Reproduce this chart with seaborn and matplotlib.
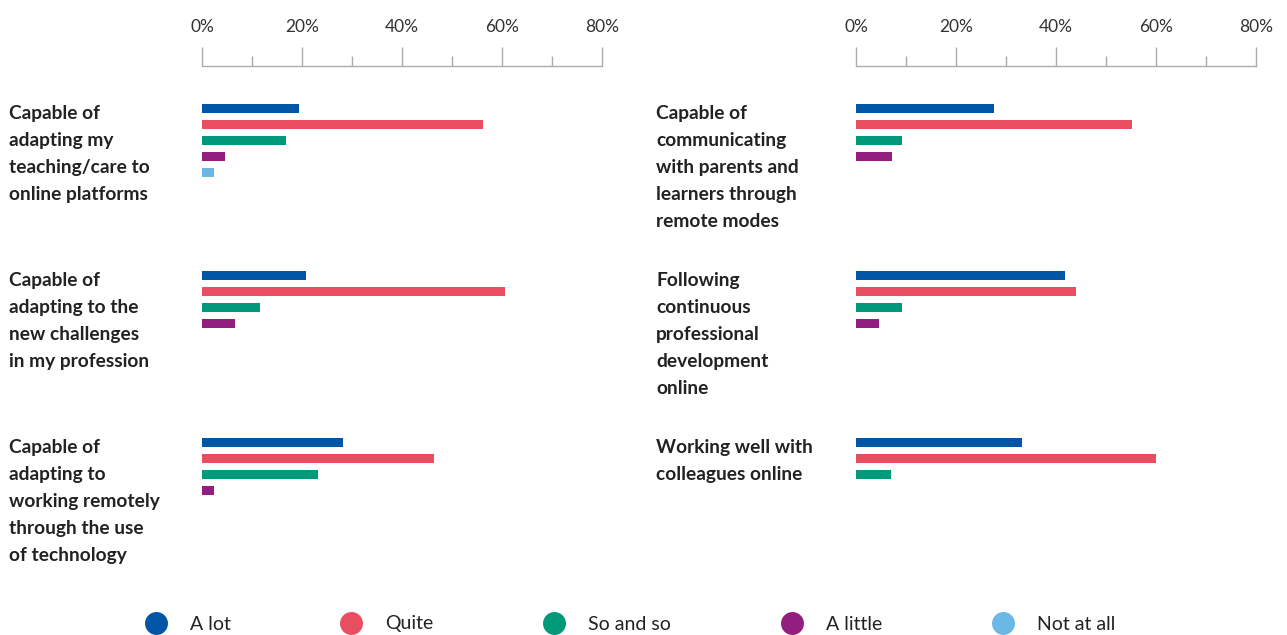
import numpy as np
import pandas as pd
import seaborn as sns
import matplotlib.pyplot as plt
import matplotlib.transforms as mtrans
from matplotlib.lines import Line2D
from matplotlib.ticker import FixedLocator

# Answer scale and colours
responses = ["A lot", "Quite", "So and so", "A little", "Not at all"]
colors = ["#0056A4", "#E94D60", "#009A7A", "#921F80", "#6BB8E6"]

# Left column statements and shares (%)
left_items = [
    "Capable of\nadapting my\nteaching/care to\nonline platforms",
    "Capable of\nadapting to the\nnew challenges\nin my profession",
    "Capable of\nadapting to\nworking remotely\nthrough the use\nof technology",
]
left_a_lot = [19.4, 20.8, 28.2]
left_quite = [56.2, 60.6, 46.4]
left_so_so = [16.8, 11.6, 23.2]
left_a_little = [4.6, 6.6, 2.4]
left_not_at_all = [2.4, 0.0, 0.0]

# Right column statements and shares (%)
right_items = [
    "Capable of\ncommunicating\nwith parents and\nlearners through\nremote modes",
    "Following\ncontinuous\nprofessional\ndevelopment\nonline",
    "Working well with\ncolleagues online",
]
right_a_lot = [27.6, 41.8, 33.2]
right_quite = [55.2, 44.0, 60.0]
right_so_so = [9.2, 9.2, 7.0]
right_a_little = [7.2, 4.6, 0.0]
right_not_at_all = [0.0, 0.0, 0.0]

tick_values = [0, 20, 40, 60, 80]
tick_labels = ["0%", "20%", "40%", "60%", "80%"]


def long_frame(items, *series):
    rows = []
    for resp, vals in zip(responses, series):
        for item, v in zip(items, vals):
            rows.append({"item": item, "response": resp, "pct": v})
    return pd.DataFrame(rows)


left_df = long_frame(left_items, left_a_lot, left_quite, left_so_so,
                     left_a_little, left_not_at_all)
right_df = long_frame(right_items, right_a_lot, right_quite, right_so_so,
                      right_a_little, right_not_at_all)

sns.set_theme(style="white")
plt.rcParams["font.family"] = ["Lato", "DejaVu Sans"]

W, H = 1287, 635
fig = plt.figure(figsize=(W / 100, H / 100), dpi=100)

ax_top_px, ax_bot_px = 66, 600
panels = [
    (202, 9, left_df, left_items),
    (856, 656, right_df, right_items),
]

tick_grey = "#ABABAB"
for x0_px, label_px, df, items in panels:
    ax = fig.add_axes([x0_px / W, 1 - ax_bot_px / H, 400 / W,
                       (ax_bot_px - ax_top_px) / H])
    sns.barplot(data=df, x="pct", y="item", hue="response",
                hue_order=responses, palette=colors, saturation=1,
                orient="h", width=0.479, gap=0.4375, linewidth=0,
                legend=False, errorbar=None, ax=ax)
    ax.set_xlim(0, 80)
    ax.set_ylim(2.7515, -0.446)
    ax.set_xlabel("")
    ax.set_ylabel("")
    ax.set_yticks([])
    ax.xaxis.tick_top()
    ax.set_xticks(tick_values)
    ax.set_xticklabels(tick_labels)
    ax.xaxis.set_minor_locator(FixedLocator([10, 30, 50, 70]))
    ax.tick_params(axis="x", which="major", direction="out", length=13.7,
                   width=1, color=tick_grey, pad=8.5, labelsize=12.5,
                   labelcolor="#333333")
    ax.tick_params(axis="x", which="minor", direction="out", length=7.2,
                   width=1, color=tick_grey)
    for side in ["left", "right", "bottom"]:
        ax.spines[side].set_visible(False)
    ax.spines["top"].set_color(tick_grey)
    ax.spines["top"].set_linewidth(1)

    trans = mtrans.blended_transform_factory(fig.transFigure, ax.transData)
    for i, item in enumerate(items):
        ax.text(label_px / W, i - 0.215, item, transform=trans,
                ha="left", va="top", fontsize=13.8, fontweight="bold",
                color="#222222", linespacing=1.73)

handles = [Line2D([], [], marker="o", linestyle="none", markersize=15.5,
                  markerfacecolor=c, markeredgecolor=c) for c in colors]
fig.legend(handles, responses, loc="center", ncol=5,
           bbox_to_anchor=(0.49, 1 - 624 / H), frameon=False,
           fontsize=14, handlelength=1.0, handletextpad=1.25,
           columnspacing=5.7, labelcolor="#222222")

fig.savefig("out.png", dpi=100)
